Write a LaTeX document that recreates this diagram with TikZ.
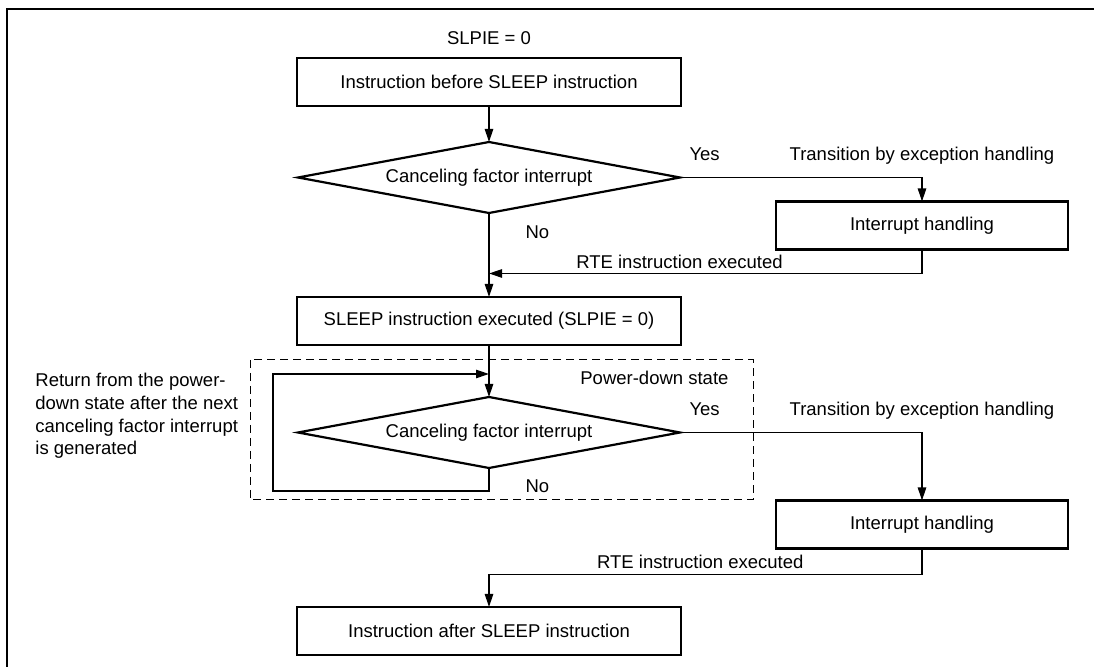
\documentclass[tikz,border=0pt]{standalone}
\usepackage{fontspec}
\setmainfont{Liberation Sans}
\usetikzlibrary{arrows.meta,positioning,shapes.geometric}
\newcommand{\flowfont}{\fontsize{9.25pt}{11.35pt}\selectfont}

\begin{document}
\begin{tikzpicture}[x=0.5pt, y=-0.5pt,
        process/.style={draw=black, fill=white, line width=1.1pt, minimum width=192pt, minimum height=24pt, inner sep=0pt, outer sep=0pt, align=center, font=\flowfont},
        handler/.style={process, minimum width=146pt},
        decision/.style={diamond, draw=black, fill=white, line width=1.1pt, aspect=5.4, minimum width=191pt, minimum height=35.5pt, inner sep=0pt, outer sep=0pt, font=\flowfont},
        lbl/.style={inner sep=0pt, text depth=0pt, font=\flowfont},
        note/.style={inner sep=0pt, align=left, font=\flowfont},
        arrow/.style={-{Triangle[length=6.5pt,width=4.2pt]}, line width=0.55pt},
        powerbox/.style={line width=0.5pt, dash pattern=on 4pt off 2.5pt}
    ]
    \useasboundingbox (0,0) rectangle (1094,667);
    \draw[line width=1pt] (7,667) -- (7,9) -- (1094,9);
    \draw[powerbox] (250,360) rectangle (753,500);
    \node[process] (before) at (489,82) {Instruction before SLEEP instruction};
    \node[lbl, above=6.7pt of before] (slpie) {SLPIE = 0};
    \node[decision, below=18pt of before] (cancel1) {Canceling factor interrupt};
    \node[handler, below right=12pt and 48pt of cancel1.east] (handle1) {Interrupt handling};
    \node[process, below=42pt of cancel1] (sleep) {SLEEP instruction executed (SLPIE = 0)};
    \node[decision, below=26pt of sleep] (cancel2) {Canceling factor interrupt};
    \node[handler, below right=34pt and 48pt of cancel2.east] (handle2) {Interrupt handling};
    \node[process, below=69.5pt of cancel2] (after) {Instruction after SLEEP instruction};
    \node[lbl, anchor=base west] (pdstate) at (580,384.6) {Power-down state};
    \node[note, anchor=north west] (retnote) at (35,373) {Return from the power-\\down state after the next\\canceling factor interrupt\\is generated};
    \draw[arrow] (before) -- (cancel1);
    \draw[arrow] (cancel1.east) node[lbl, above right=8.2pt and 4.5pt] {Yes} -| node[lbl, pos=0.5, above=8.2pt] {Transition by exception handling} (handle1.north);
    \draw[arrow] (handle1.south) -- ++(0,-12pt) coordinate (back1) -- node[lbl, pos=0.56, above=2pt] {RTE instruction executed} (back1 -| cancel1.south);
    \draw[arrow] (cancel1) -- node[lbl, pos=0.23, right=18pt] {No} (sleep);
    \draw[arrow] (sleep) -- (cancel2);
    \draw[arrow] (cancel2.south) -- node[lbl, pos=0.78, right=18pt] {No} ++(0,-11.5pt) -- ++(-108pt,0) -- ++(0,58.5pt) -- ++(108pt,0);
    \draw[arrow] (cancel2.east) node[lbl, above right=8.2pt and 4.5pt] {Yes} -| node[lbl, pos=0.5, above=8.2pt] {Transition by exception handling} (handle2.north);
    \draw[arrow] (handle2.south) -- ++(0,-13pt) -| node[lbl, pos=0.256, above=2.5pt] {RTE instruction executed} (after.north);
    \end{tikzpicture}
\end{document}
